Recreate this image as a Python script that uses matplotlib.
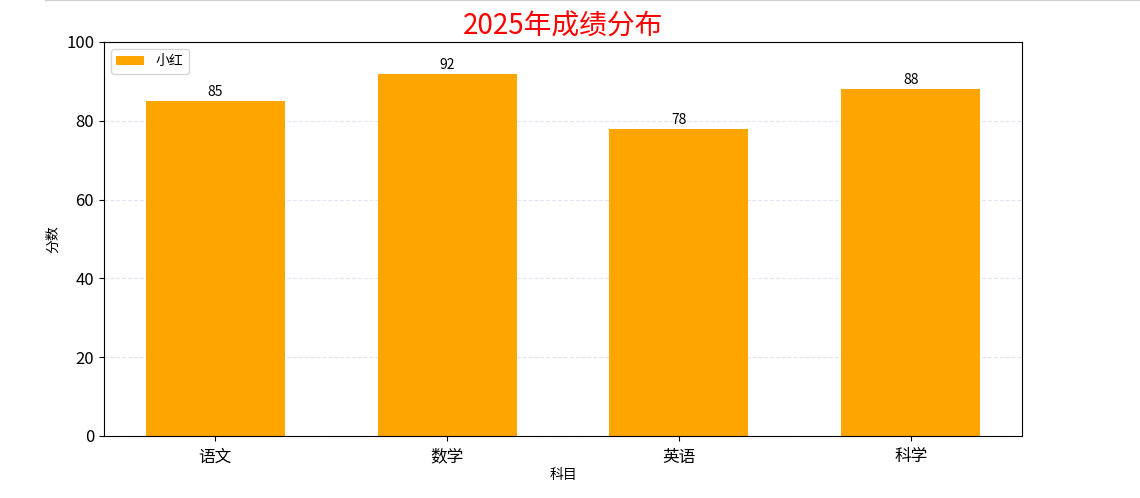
import matplotlib.pyplot as plt
from matplotlib.lines import Line2D

plt.rcParams['font.family'] = ['Noto Sans CJK SC', 'DejaVu Sans']
plt.rcParams['axes.unicode_minus'] = False

# data
subjects = ['语文', '数学', '英语', '科学']
scores = [85, 92, 78, 88]
series_name = '小红'

fig = plt.figure(figsize=(11.4, 4.98), dpi=100)
ax = fig.add_axes([0.0912, 0.1245, 0.8053, 0.7912])

bars = ax.bar(range(len(subjects)), scores, width=0.6, color='orange', label=series_name)
for b, v in zip(bars, scores):
    ax.text(b.get_x() + b.get_width() / 2, v + 0.5, str(v), ha='center', va='bottom', fontsize=10)

ax.set_xticks(range(len(subjects)))
ax.set_xticklabels(subjects, fontsize=12)
ax.tick_params(axis='y', labelsize=12)
ax.tick_params(axis='x', pad=5.5)
ax.set_ylim(0, 100)
ax.set_xlabel('科目', fontsize=10, labelpad=2)
ax.set_ylabel('分数', fontsize=10)
ax.set_title('2025年成绩分布', fontsize=20, color='red', pad=3)
ax.grid(axis='y', linestyle='--', color='#d8d8f0', alpha=0.7)
ax.set_axisbelow(True)
ax.legend(loc='upper left', fontsize=10)

# thin gray rule at the very top of the image
fig.add_artist(Line2D([0.04, 1.0], [0.999, 0.999], color='#cccccc', linewidth=1.5))

plt.savefig('out.png', dpi=100)
